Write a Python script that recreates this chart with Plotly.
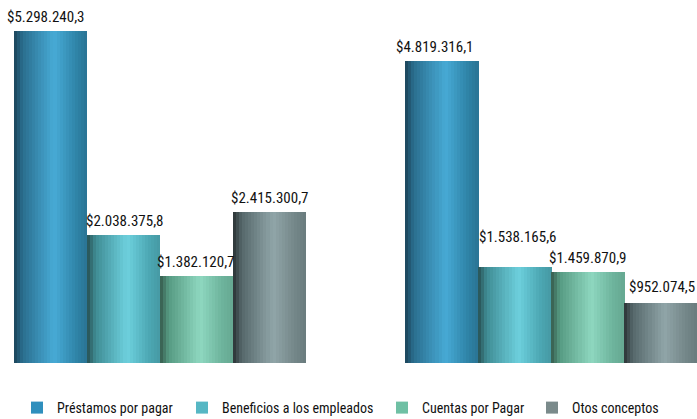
import plotly.graph_objects as go

categories = ["2022", "2021"]
series_names = ["Préstamos por pagar", "Beneficios a los empleados", "Cuentas por Pagar", "Otos conceptos"]
prestamos = [5298240.3, 4819316.1]
beneficios = [2038375.8, 1538165.6]
cuentas = [1382120.7, 1459870.9]
otros = [2415300.7, 952074.5]
values = [prestamos, beneficios, cuentas, otros]

legend_colors = ["#2f8fbd", "#56b7c4", "#6fc0a4", "#7a8a8b"]
gradients = [
    [(0.0, "#1b4257"), (0.12, "#2a6e8e"), (0.55, "#47aad5"), (0.85, "#2f84a8"), (1.0, "#2a7494")],
    [(0.0, "#274f52"), (0.12, "#3f8c94"), (0.55, "#6dd0dd"), (0.85, "#4ca7b3"), (1.0, "#4699a4")],
    [(0.0, "#355a4b"), (0.12, "#569a82"), (0.55, "#8ed7bf"), (0.85, "#6db39c"), (1.0, "#66a892")],
    [(0.0, "#2a3234"), (0.12, "#55676a"), (0.55, "#90a5a8"), (0.85, "#738688"), (1.0, "#6a7b7d")],
]

# label nudges in pixels (series index, category index) -> (dx, dy)
label_nudge = {(0, 0): (-4, 0), (0, 1): (-7, 0), (1, 0): (2, 0), (1, 1): (3, 16),
               (3, 1): (1, 2)}

def hex2rgb(h):
    h = h.lstrip("#")
    return tuple(int(h[i:i + 2], 16) for i in (0, 2, 4))

def grad(stops, t):
    for (t0, c0), (t1, c1) in zip(stops[:-1], stops[1:]):
        if t0 <= t <= t1:
            f = (t - t0) / (t1 - t0) if t1 > t0 else 0
            a, b = hex2rgb(c0), hex2rgb(c1)
            return "rgb(%d,%d,%d)" % tuple(round(a[i] + (b[i] - a[i]) * f) for i in range(3))
    return stops[-1][1]

def fmt(v):
    s = f"{v:,.1f}"
    s = s.replace(",", "X").replace(".", ",").replace("X", ".")
    return "$" + s

W, H = 697, 419
bw = 0.1867
base = -2 * bw
N = 24
FONT = "Liberation Sans Narrow, Roboto Condensed, Arial Narrow, Roboto, sans-serif"
legend_names = ["legend", "legend2", "legend3", "legend4"]
legend_text_x = [59, 224, 424, 574]

fig = go.Figure()
for i, (name, vals) in enumerate(zip(series_names, values)):
    fig.add_trace(go.Bar(
        x=categories, y=vals, name=name, width=bw, offset=base + i * bw,
        marker=dict(color=legend_colors[i], line=dict(width=0)),
        hoverinfo="skip", legend=legend_names[i],
    ))
    sw = bw / N
    for k in range(N):
        t = (k + 0.5) / N
        fig.add_trace(go.Bar(
            x=categories, y=vals, width=sw * 1.15, offset=base + i * bw + k * sw,
            marker=dict(color=grad(gradients[i], t), line=dict(width=0)),
            showlegend=False, hoverinfo="skip",
        ))
    for j, v in enumerate(vals):
        dx, dy = label_nudge.get((i, j), (0, 0))
        fig.add_annotation(
            x=j + base + (i + 0.5) * bw, y=v, xref="x", yref="y", text=fmt(v),
            showarrow=False, yanchor="bottom", xanchor="center", yshift=4 + dy, xshift=dx,
            font=dict(family=FONT, size=15, color="#111111"), borderpad=0,
        )

fig.add_annotation(x="2022", y=(H - 373) / H, xref="x", yref="paper", text="2022", showarrow=False,
                   xshift=-41, yanchor="middle", font=dict(family=FONT, size=15, color="#111111"))
fig.add_annotation(x="2021", y=(H - 380) / H, xref="x", yref="paper", text="2021", showarrow=False,
                   xshift=-38, yanchor="middle", font=dict(family=FONT, size=15, color="#111111"))

per_px = prestamos[0] / (363 - 31)
legend_layout = {}
for i, ln in enumerate(legend_names):
    legend_layout[ln] = dict(
        orientation="h", x=(legend_text_x[i] - 42) / W, xanchor="left",
        y=(H - 408) / H, yanchor="middle", bgcolor="rgba(0,0,0,0)",
        font=dict(family=FONT, size=14, color="#111111"), itemwidth=30,
    )

fig.update_layout(
    width=W, height=H,
    margin=dict(l=0, r=0, t=0, b=0, autoexpand=False),
    barmode="overlay",
    bargap=0,
    plot_bgcolor="white", paper_bgcolor="white",
    xaxis=dict(range=[-0.409, 1.373], showticklabels=False, showgrid=False, zeroline=False,
               showline=False, ticks=""),
    yaxis=dict(range=[-(H - 363) * per_px, 363 * per_px], visible=False),
    showlegend=True,
    **legend_layout,
)

fig.write_html("out.html", post_script="document.body.style.margin='0';",
               config={"displayModeBar": False})
